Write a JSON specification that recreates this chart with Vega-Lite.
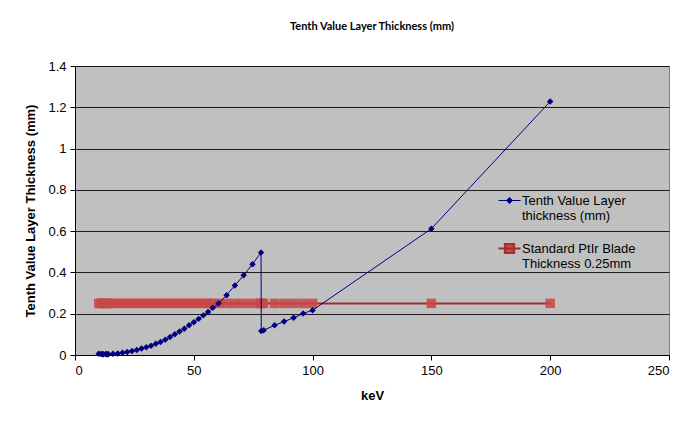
{
  "$schema": "https://vega.github.io/schema/vega-lite/v6.json",
  "width": 594,
  "height": 289,
  "autosize": "none",
  "padding": {"left": 75, "top": 66, "right": 31, "bottom": 72},
  "background": "white",
  "title": {
    "text": "Tenth Value Layer Thickness (mm)",
    "font": "Lato",
    "fontSize": 11,
    "fontWeight": "bold",
    "color": "black",
    "anchor": "middle",
    "offset": 28
  },
  "data": {
    "values": [
      {"keV": 10, "tvl": 0.0062, "blade": 0.25},
      {"keV": 11, "tvl": 0.0045, "blade": 0.25},
      {"keV": 11.56, "tvl": 0.0036, "blade": 0.25},
      {"keV": 12, "tvl": 0.004, "blade": 0.25},
      {"keV": 13, "tvl": 0.0052, "blade": 0.25},
      {"keV": 13.27, "tvl": 0.004, "blade": 0.25},
      {"keV": 13.88, "tvl": 0.0036, "blade": 0.25},
      {"keV": 14, "tvl": 0.0037, "blade": 0.25},
      {"keV": 16, "tvl": 0.0055, "blade": 0.25},
      {"keV": 18, "tvl": 0.0075, "blade": 0.25},
      {"keV": 20, "tvl": 0.0105, "blade": 0.25},
      {"keV": 22, "tvl": 0.014, "blade": 0.25},
      {"keV": 24, "tvl": 0.019, "blade": 0.25},
      {"keV": 26, "tvl": 0.0245, "blade": 0.25},
      {"keV": 28, "tvl": 0.031, "blade": 0.25},
      {"keV": 30, "tvl": 0.038, "blade": 0.25},
      {"keV": 32, "tvl": 0.045, "blade": 0.25},
      {"keV": 34, "tvl": 0.054, "blade": 0.25},
      {"keV": 36, "tvl": 0.063, "blade": 0.25},
      {"keV": 38, "tvl": 0.074, "blade": 0.25},
      {"keV": 40, "tvl": 0.087, "blade": 0.25},
      {"keV": 42, "tvl": 0.1, "blade": 0.25},
      {"keV": 44, "tvl": 0.114, "blade": 0.25},
      {"keV": 46, "tvl": 0.127, "blade": 0.25},
      {"keV": 48, "tvl": 0.144, "blade": 0.25},
      {"keV": 50, "tvl": 0.159, "blade": 0.25},
      {"keV": 52, "tvl": 0.175, "blade": 0.25},
      {"keV": 54, "tvl": 0.192, "blade": 0.25},
      {"keV": 56, "tvl": 0.208, "blade": 0.25},
      {"keV": 58, "tvl": 0.229, "blade": 0.25},
      {"keV": 60.4, "tvl": 0.249, "blade": 0.25},
      {"keV": 63.8, "tvl": 0.29, "blade": 0.25},
      {"keV": 67.3, "tvl": 0.337, "blade": 0.25},
      {"keV": 71, "tvl": 0.386, "blade": 0.25},
      {"keV": 74.7, "tvl": 0.44, "blade": 0.25},
      {"keV": 78.3, "tvl": 0.497, "blade": 0.25},
      {"keV": 78.4, "tvl": 0.116, "blade": 0.25},
      {"keV": 79.4, "tvl": 0.12, "blade": 0.25},
      {"keV": 84, "tvl": 0.144, "blade": 0.25},
      {"keV": 88, "tvl": 0.162, "blade": 0.25},
      {"keV": 92, "tvl": 0.18, "blade": 0.25},
      {"keV": 96, "tvl": 0.201, "blade": 0.25},
      {"keV": 100, "tvl": 0.217, "blade": 0.25},
      {"keV": 150, "tvl": 0.612, "blade": 0.25},
      {"keV": 200, "tvl": 1.228, "blade": 0.25}
    ]
  },
  "transform": [
    {"fold": ["tvl", "blade"], "as": ["series", "thickness"]}
  ],
  "encoding": {
    "x": {
      "field": "keV",
      "type": "quantitative",
      "scale": {"domain": [0, 250], "nice": false},
      "axis": {
        "values": [0, 50, 100, 150, 200, 250],
        "grid": false,
        "title": "keV",
        "labelPadding": 4,
        "titlePadding": 12
      }
    },
    "y": {
      "field": "thickness",
      "type": "quantitative",
      "scale": {"domain": [0, 1.4], "nice": false},
      "axis": {
        "values": [0, 0.2, 0.4, 0.6, 0.8, 1, 1.2, 1.4],
        "format": ".1~f",
        "grid": true,
        "title": "Tenth Value Layer Thickness (mm)",
        "labelPadding": 4,
        "titlePadding": 10
      }
    },
    "color": {
      "field": "series",
      "type": "nominal",
      "scale": {"domain": ["tvl", "blade"], "range": ["#000080", "#A32E2E"]},
      "legend": {
        "title": null,
        "orient": "none",
        "legendX": 428,
        "legendY": 128,
        "labelFont": "Liberation Sans",
        "labelFontSize": 13,
        "labelColor": "black",
        "labelOffset": 6,
        "symbolSize": 484,
        "rowPadding": 16,
        "labelExpr": "datum.value === 'tvl' ? ['Tenth Value Layer', 'thickness (mm)'] : ['Standard PtIr Blade', 'Thickness 0.25mm']",
        "encode": {
          "symbols": {
            "update": {
              "shape": {"signal": "datum.value === 'tvl' ? 'M-1,0L1,0M0,-0.28L0.28,0L0,0.28L-0.28,0Z' : 'M-1,0L1,0M-0.42,-0.42L0.42,-0.42L0.42,0.42L-0.42,0.42Z'"},
              "fill": {"signal": "datum.value === 'tvl' ? '#000080' : '#C84848'"},
              "stroke": {"signal": "datum.value === 'tvl' ? '#000080' : '#B03A3A'"},
              "strokeWidth": {"signal": "datum.value === 'tvl' ? 1 : 2"},
              "opacity": {"value": 1}
            }
          }
        }
      }
    }
  },
  "layer": [
    {
      "transform": [{"filter": "datum.series === 'blade'"}],
      "mark": {"type": "line", "strokeWidth": 2}
    },
    {
      "transform": [{"filter": "datum.series === 'blade'"}],
      "mark": {"type": "point", "shape": "square", "filled": true, "size": 90, "opacity": 0.88},
      "encoding": {"color": {"value": "#C84848"}}
    },
    {
      "transform": [{"filter": "datum.series === 'tvl'"}],
      "mark": {"type": "line", "strokeWidth": 1}
    },
    {
      "transform": [{"filter": "datum.series === 'tvl'"}],
      "mark": {"type": "point", "shape": "diamond", "filled": true, "size": 42, "opacity": 1},
      "encoding": {"color": {"value": "#000080"}}
    }
  ],
  "config": {
    "view": {"fill": "#C0C0C0", "stroke": "#808080"},
    "axis": {
      "labelFont": "Liberation Sans",
      "labelFontSize": 13,
      "labelColor": "black",
      "titleFont": "Liberation Sans",
      "titleFontSize": 13,
      "titleFontWeight": "bold",
      "titleColor": "black",
      "domainColor": "black",
      "tickColor": "black",
      "tickSize": 5,
      "gridColor": "black",
      "gridOpacity": 0.85
    }
  }
}
